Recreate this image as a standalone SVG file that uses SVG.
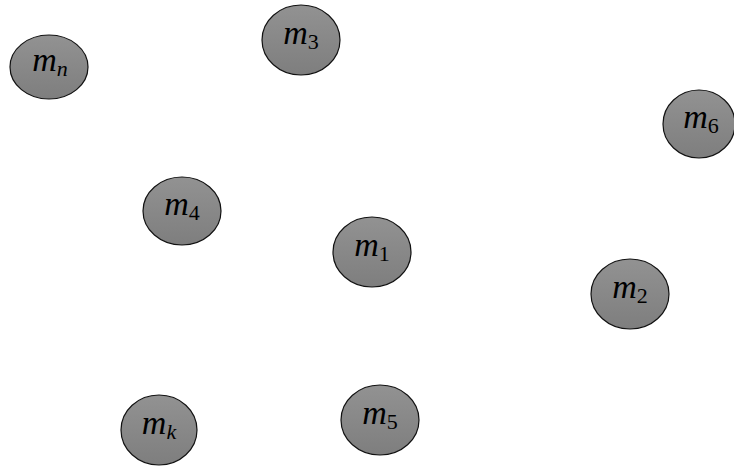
<svg xmlns="http://www.w3.org/2000/svg" width="734" height="466" viewBox="0 0 734 466">
<defs>
<linearGradient id="g" x1="0" y1="0" x2="0" y2="1">
<stop offset="0" stop-color="#929292"/>
<stop offset="1" stop-color="#7e7e7e"/>
</linearGradient>
<style>
.n{fill:url(#g);stroke:#111;stroke-width:1.2}
.t{font-family:"Liberation Serif","DejaVu Serif",serif;font-style:italic;font-size:34px;fill:#000;text-anchor:middle}
.s{font-size:22px}
.u{font-style:normal}
</style>
</defs>
<rect width="734" height="466" fill="#fff"/>
<g id="connectors"></g>
<g id="mn"><ellipse class="n" cx="49" cy="67" rx="39" ry="32"/><text class="t" x="50" y="71">m<tspan class="s" dy="5">n</tspan></text></g>
<g id="m3"><ellipse class="n" cx="301" cy="40" rx="39" ry="35"/><text class="t" x="301" y="44">m<tspan class="s u" dy="5">3</tspan></text></g>
<g id="m6"><ellipse class="n" cx="699" cy="124" rx="36" ry="34"/><text class="t" x="701" y="128">m<tspan class="s u" dy="5">6</tspan></text></g>
<g id="m4"><ellipse class="n" cx="182" cy="211" rx="39" ry="34"/><text class="t" x="182" y="215">m<tspan class="s u" dy="5">4</tspan></text></g>
<g id="m1"><ellipse class="n" cx="372" cy="252" rx="39" ry="35"/><text class="t" x="372" y="256">m<tspan class="s u" dy="5">1</tspan></text></g>
<g id="m2"><ellipse class="n" cx="630" cy="294" rx="39" ry="35"/><text class="t" x="630" y="298">m<tspan class="s u" dy="5">2</tspan></text></g>
<g id="mk"><ellipse class="n" cx="159" cy="430" rx="38" ry="35"/><text class="t" x="159" y="434">m<tspan class="s" dy="5">k</tspan></text></g>
<g id="m5"><ellipse class="n" cx="380" cy="420" rx="39" ry="35"/><text class="t" x="380" y="424">m<tspan class="s u" dy="5">5</tspan></text></g>
</svg>
